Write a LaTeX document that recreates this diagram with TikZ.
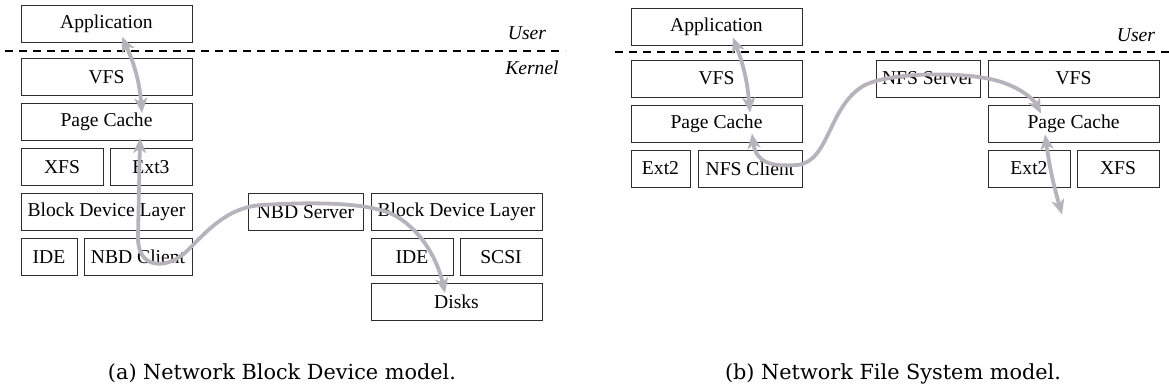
\documentclass[tikz,border=0pt]{standalone}
\usepackage{fontspec}
\newfontfamily\boxfont{Liberation Serif}
\newfontfamily\capfont{DejaVu Serif}
\usepackage{tikz}
\usetikzlibrary{positioning,calc,arrows.meta}
\definecolor{flowgray}{RGB}{182,179,188}
\definecolor{linegray}{RGB}{45,45,45}
\tikzset{
  layer/.style={draw=linegray, line width=0.5pt, inner sep=0pt, minimum height=18.5pt,
    font=\boxfont\fontsize{9.8}{11.8}\selectfont},
  wide/.style={minimum width=85.5pt},
  half/.style={minimum width=41pt},
  ring/.style={font=\boxfont\itshape\fontsize{9.8}{11.8}\selectfont, inner sep=0pt},
  kline/.style={draw=black, line width=0.6pt, dash pattern=on 4pt off 3pt},
  flow/.style={draw=flowgray, line width=1.9pt,
    {Stealth[length=7.5pt,width=6.5pt,inset=2pt]}-{Stealth[length=7.5pt,width=6.5pt,inset=2pt]}},
  figcap/.style={font=\capfont\fontsize{10.4}{13}\selectfont, inner sep=0pt, anchor=base}
}

\begin{document}
\begin{tikzpicture}[x=0.5pt, y=-0.5pt, node distance=3.5pt]
    \useasboundingbox (0,0) rectangle (1169,391);

    % (a) NBD
    \node[layer,wide] (appa) at (106.5,24) {Application};
    \node[layer,wide] (vfsa) [below=7.5pt of appa] {VFS};
    \node[layer,wide] (pca) [below=of vfsa] {Page Cache};
    \node[layer,half] (xfsa) [below=of pca.south west, anchor=north west] {XFS};
    \node[layer,half] (ext3a) [below=of pca.south east, anchor=north east] {Ext3};
    \node[layer,wide] (bdla) [below=of xfsa.south west, anchor=north west] {Block Device Layer};
    \node[layer,minimum width=28pt] (idea) [below=of bdla.south west, anchor=north west] {IDE};
    \node[layer,minimum width=54pt] (nbdc) [below=of bdla.south east, anchor=north east] {NBD Client};
    \node[layer,minimum width=57.5pt] (nbds) [right=27.5pt of bdla] {NBD Server};
    \node[layer,wide] (bdlr) [right=of nbds] {Block Device Layer};
    \node[layer,half] (ider) [below=of bdlr.south west, anchor=north west] {IDE};
    \node[layer,half] (scsi) [below=of bdlr.south east, anchor=north east] {SCSI};
    \node[layer,wide] (disks) [below=of ider.south west, anchor=north west] {Disks};
    \node[ring] (usera) at (527,33) {User};
    \node[ring] (kerna) at (532,68) {Kernel};
    \draw[kline] (5,51) -- (565,51);

    \path ($(appa.south)+(15.5,-6)$) edge[flow, bend left=10] ($(pca.north)+(35.5,10)$);
    \draw[flow] ($(pca.south)+(33.5,-3)$) -- (138,238)
      .. controls (138,270) and (168,270) .. (188,250)
      .. controls (208,230) and (228,207) .. (262,205)
      .. controls (310,202) and (365,202) .. (392,214)
      .. controls (420,228) and (437,258) .. ($(disks.north)+(-11.5,10)$);

    % (b) NFS
    \node[layer,wide] (appb) at (716.5,26.5) {Application};
    \node[layer,wide] (vfsb) [below=7pt of appb] {VFS};
    \node[layer,wide] (pcb) [below=of vfsb] {Page Cache};
    \node[layer,minimum width=29.5pt] (ext2b) [below=of pcb.south west, anchor=north west] {Ext2};
    \node[layer,minimum width=52pt] (nfsc) [below=of pcb.south east, anchor=north east] {NFS Client};
    \node[layer,minimum width=52pt] (nfss) [right=36.5pt of vfsb] {NFS Server};
    \node[layer,wide] (vfsr) [right=of nfss] {VFS};
    \node[layer,wide] (pcr) [below=of vfsr] {Page Cache};
    \node[layer,half] (ext2r) [below=of pcr.south west, anchor=north west] {Ext2};
    \node[layer,half] (xfsr) [below=of pcr.south east, anchor=north east] {XFS};
    \node[ring] (userb) at (1136,35) {User};
    \draw[kline] (615,52) -- (1169,52);
    \coordinate (diskb) at ($(ext2r.south)+(33,27)$);

    \path ($(appb.south)+(16.5,-8)$) edge[flow, bend left=8] ($(pcb.north)+(33.5,8)$);
    \draw[flow] ($(pcb.south)+(35.5,-9)$)
      .. controls (756,162) and (770,167) .. (797,165)
      .. controls (830,162) and (828,105) .. (865,85)
      .. controls (890,73) and (950,72) .. (985,78)
      .. controls (1015,83) and (1033,98) .. ($(pcr.north)+(-32.5,9)$);
    \path ($(pcr.south)+(-28.5,-8)$) edge[flow, bend right=4] (diskb);

    \node[figcap] (capa) at (282,379) {(a) Network Block Device model.};
    \node[figcap] (capb) at (893,379) {(b) Network File System model.};
\end{tikzpicture}
\end{document}
